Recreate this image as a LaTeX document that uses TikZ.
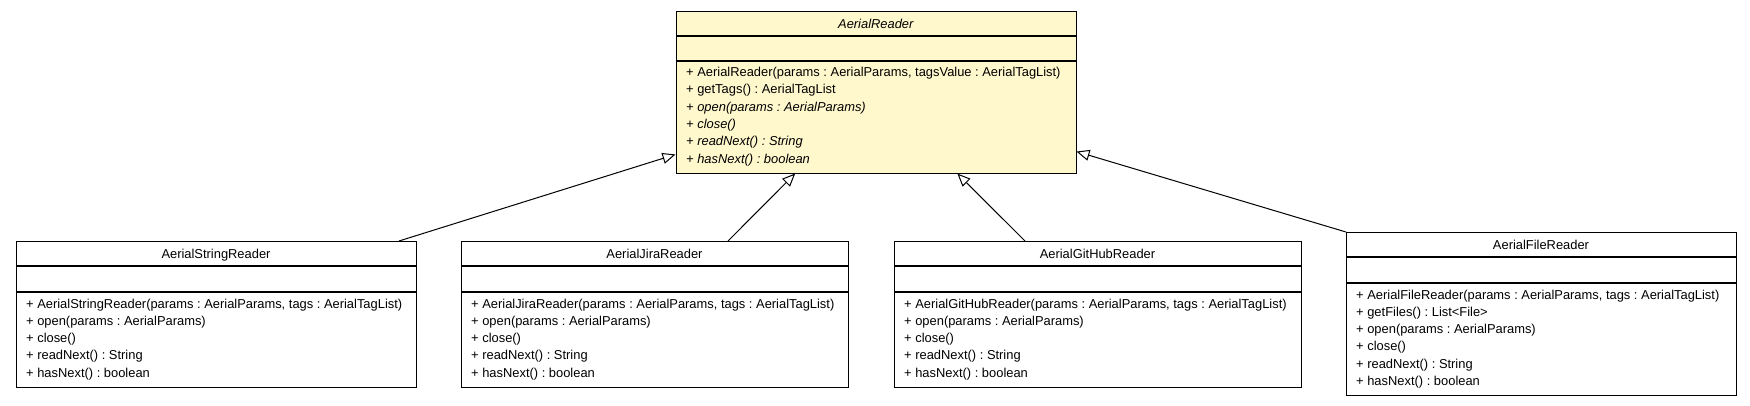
\documentclass[tikz,border=0pt]{standalone}
\usepackage{fontspec}
\setmainfont{Liberation Sans}
\usetikzlibrary{arrows.meta}
\definecolor{abstractfill}{HTML}{FFF8CD}
\tikzset{
  classbox/.style={draw=black, line width=1pt, fill=white, rectangle, inner sep=0pt},
  sepline/.style={draw=black, line width=1.2pt},
  ctitle/.style={anchor=base, inner sep=0pt, font=\fontsize{12.9}{15}\selectfont\frenchspacing},
  mtext/.style={anchor=base west, inner sep=0pt, font=\fontsize{12.9}{15}\selectfont\frenchspacing},
  inh/.style={draw=black, line width=1pt, -{Triangle[open, length=13pt, width=11pt, fill=white]}},
}
\begin{document}
\begin{tikzpicture}[x=1pt, y=-1pt]
\useasboundingbox (0,0) rectangle (1750,405);
% --- AerialReader (abstract)
\node[classbox, fill=abstractfill, minimum width=400pt, minimum height=162pt] (ar) at (876,92) {};
\draw[sepline] (676,36) -- (1076,36);
\draw[sepline] (676,61) -- (1076,61);
\node[ctitle] (ar-t) at (876,28.5) {\textit{AerialReader}};
\foreach \t [count=\i] in {{+ AerialReader(params : AerialParams, tagsValue : AerialTagList)},{+ getTags() : AerialTagList},{\textit{+ open(params : AerialParams)}},{\textit{+ close()}},{\textit{+ readNext() : String}},{\textit{+ hasNext() : boolean}}}
  \node[mtext] (ar-m\i) at (686,{76.5+(\i-1)*17.3}) {\t};
% --- AerialStringReader
\node[classbox, minimum width=400pt, minimum height=146pt] (asr) at (216,314) {};
\draw[sepline] (16,266) -- (416,266);
\draw[sepline] (16,292) -- (416,292);
\node[ctitle] (asr-t) at (216,258.5) {AerialStringReader};
\foreach \t [count=\i] in {{+ AerialStringReader(params : AerialParams, tags : AerialTagList)},{+ open(params : AerialParams)},{+ close()},{+ readNext() : String},{+ hasNext() : boolean}}
  \node[mtext] (asr-m\i) at (26,{308+(\i-1)*17.3}) {\t};
% --- AerialJiraReader
\node[classbox, minimum width=387pt, minimum height=146pt] (ajr) at (654.5,314) {};
\draw[sepline] (461,266) -- (848,266);
\draw[sepline] (461,292) -- (848,292);
\node[ctitle] (ajr-t) at (654.5,258.5) {AerialJiraReader};
\foreach \t [count=\i] in {{+ AerialJiraReader(params : AerialParams, tags : AerialTagList)},{+ open(params : AerialParams)},{+ close()},{+ readNext() : String},{+ hasNext() : boolean}}
  \node[mtext] (ajr-m\i) at (471,{308+(\i-1)*17.3}) {\t};
% --- AerialGitHubReader
\node[classbox, minimum width=407pt, minimum height=146pt] (agr) at (1097.5,314) {};
\draw[sepline] (894,266) -- (1301,266);
\draw[sepline] (894,292) -- (1301,292);
\node[ctitle] (agr-t) at (1097.5,258.5) {AerialGitHubReader};
\foreach \t [count=\i] in {{+ AerialGitHubReader(params : AerialParams, tags : AerialTagList)},{+ open(params : AerialParams)},{+ close()},{+ readNext() : String},{+ hasNext() : boolean}}
  \node[mtext] (agr-m\i) at (904,{308+(\i-1)*17.3}) {\t};
% --- AerialFileReader
\node[classbox, minimum width=390pt, minimum height=163pt] (afr) at (1541,313.5) {};
\draw[sepline] (1346,257) -- (1736,257);
\draw[sepline] (1346,283) -- (1736,283);
\node[ctitle] (afr-t) at (1541,249.5) {AerialFileReader};
\foreach \t [count=\i] in {{+ AerialFileReader(params : AerialParams, tags : AerialTagList)},{+ getFiles() : List<File>},{+ open(params : AerialParams)},{+ close()},{+ readNext() : String},{+ hasNext() : boolean}}
  \node[mtext] (afr-m\i) at (1356,{299+(\i-1)*17.3}) {\t};
% --- connectors
\coordinate (c-asr) at (399,241);
\coordinate (c-ajr) at (728,241);
\coordinate (c-agr) at (1025,241);
\coordinate (c-afr) at (1346,232);
\draw[inh] (c-asr) -- (ar);
\draw[inh] (c-ajr) -- (ar);
\draw[inh] (c-agr) -- (ar);
\draw[inh] (c-afr) -- (ar);
\end{tikzpicture}
\end{document}
